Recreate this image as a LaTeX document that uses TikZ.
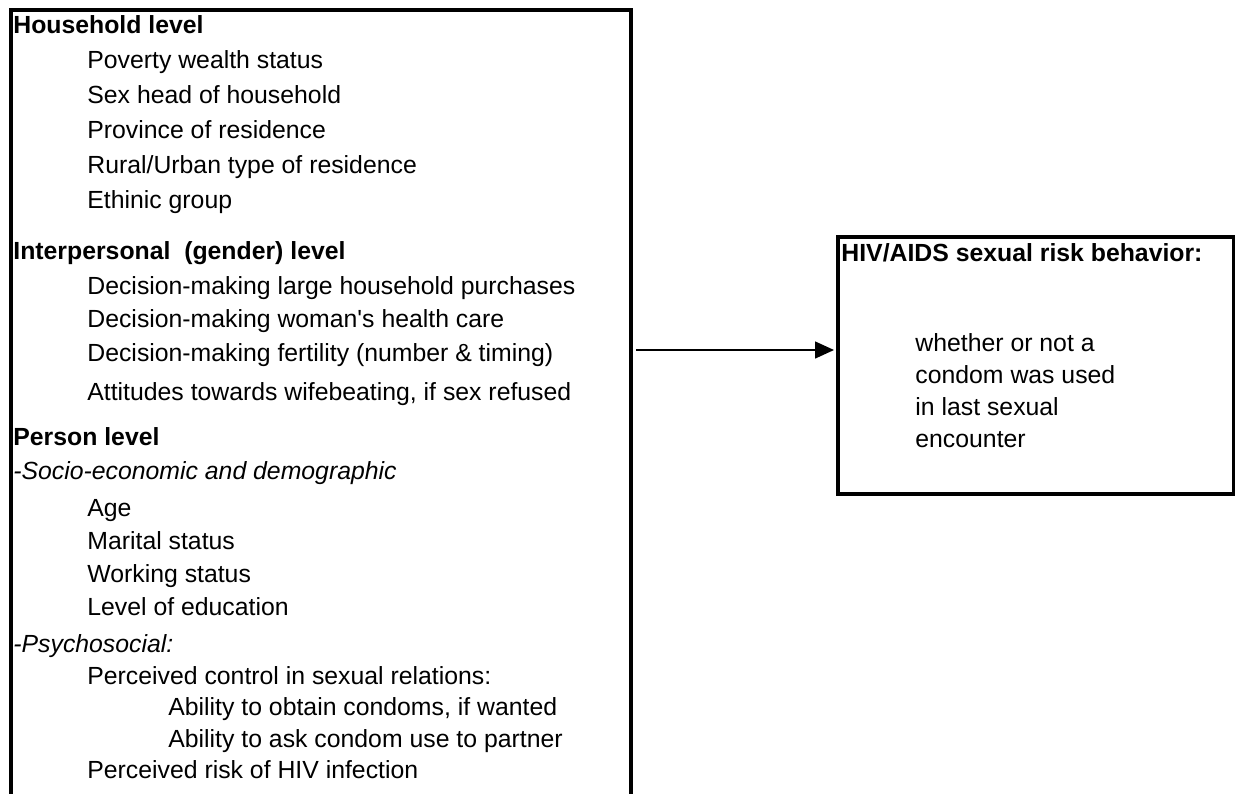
\documentclass[tikz,border=0pt]{standalone}
\usepackage{fontspec}
\setmainfont{Liberation Sans}
\usetikzlibrary{arrows.meta,positioning}

\begin{document}
\begin{tikzpicture}[x=0.5pt,y=-0.5pt,
  frame/.style={draw,line width=2pt,anchor=north west,inner sep=0pt},
  txt/.style={anchor=base west,inner sep=0pt,font=\fontsize{12.4}{15}\selectfont},
  head/.style={txt,font=\fontsize{12.4}{15}\selectfont\bfseries},
  sub/.style={txt,font=\fontsize{12.4}{15}\selectfont\itshape},
  >={Triangle[length=9.5pt,width=8.5pt]}]
\useasboundingbox (0,0) rectangle (1235,793);
\clip (0,0) rectangle (1235,793);
% left: explanatory levels
\node[frame,minimum width=310pt,minimum height=420pt] (levels) at (9,8) {};
\node[head] (hh) at (13,33) {Household level};
\node[txt] (hh1) at (87,68) {Poverty wealth status};
\node[txt] (hh2) at (87,103) {Sex head of household};
\node[txt] (hh3) at (87,138) {Province of residence};
\node[txt] (hh4) at (87,173) {Rural/Urban type of residence};
\node[txt] (hh5) at (87,208) {Ethinic group};
\node[head] (ip) at (13,259) {Interpersonal\ \ (gender) level};
\node[txt] (ip1) at (87,294) {Decision-making large household purchases};
\node[txt] (ip2) at (87,327) {Decision-making woman\textquotesingle s health care};
\node[txt] (ip3) at (87,361) {Decision-making fertility (number \& timing)};
\node[txt] (ip4) at (87,400) {Attitudes towards wifebeating, if sex refused};
\node[head] (pl) at (13,445) {Person level};
\node[sub] (se) at (13,479) {-Socio-economic and demographic};
\node[txt] (se1) at (87,516) {Age};
\node[txt] (se2) at (87,549) {Marital status};
\node[txt] (se3) at (87,582) {Working status};
\node[txt] (se4) at (87,615) {Level of education};
\node[sub] (ps) at (13,652) {-Psychosocial:};
\node[txt] (ps1) at (87,684) {Perceived control in sexual relations:};
\node[txt] (ps1a) at (168,715) {Ability to obtain condoms, if wanted};
\node[txt] (ps1b) at (168,747) {Ability to ask condom use to partner};
\node[txt] (ps2) at (87,778) {Perceived risk of HIV infection};
% right: outcome
\node[frame,minimum width=198pt,minimum height=128.5pt] (outcome) at (836,235) {};
\node[head] (oh) at (841,261) {HIV/AIDS sexual risk behavior:};
\node[txt] (o1) at (915,351) {whether or not a};
\node[txt] (o2) at (915,383) {condom was used};
\node[txt] (o3) at (915,415) {in last sexual};
\node[txt] (o4) at (915,447) {encounter};
\coordinate (src) at (636,350);
\draw[->,line width=0.75pt,shorten >=1pt] (src) -- (src -| outcome.west);
\end{tikzpicture}
\end{document}
